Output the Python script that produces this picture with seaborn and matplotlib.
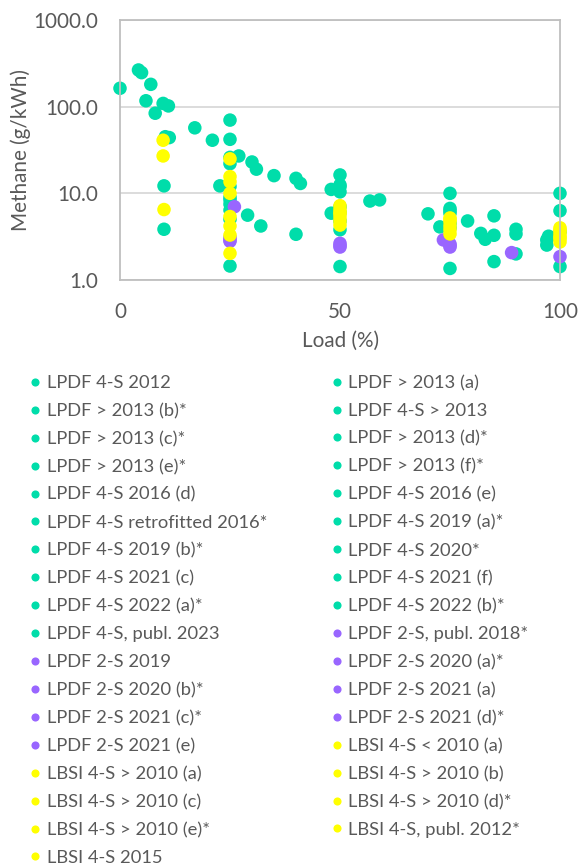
import pandas as pd
import seaborn as sns
import matplotlib.pyplot as plt
from matplotlib.ticker import FixedLocator, NullLocator

# Series names, in legend reading order (row by row, two columns)
series = [
    "LPDF 4-S 2012", "LPDF > 2013 (a)", "LPDF > 2013 (b)*", "LPDF 4-S > 2013",
    "LPDF > 2013 (c)*", "LPDF > 2013 (d)*", "LPDF > 2013 (e)*", "LPDF > 2013 (f)*",
    "LPDF 4-S 2016 (d)", "LPDF 4-S 2016 (e)", "LPDF 4-S retrofitted 2016*", "LPDF 4-S 2019 (a)*",
    "LPDF 4-S 2019 (b)*", "LPDF 4-S 2020*", "LPDF 4-S 2021 (c)", "LPDF 4-S 2021 (f)",
    "LPDF 4-S 2022 (a)*", "LPDF 4-S 2022 (b)*", "LPDF 4-S, publ. 2023", "LPDF 2-S, publ. 2018*",
    "LPDF 2-S 2019", "LPDF 2-S 2020 (a)*", "LPDF 2-S 2020 (b)*", "LPDF 2-S 2021 (a)",
    "LPDF 2-S 2021 (c)*", "LPDF 2-S 2021 (d)*", "LPDF 2-S 2021 (e)", "LBSI 4-S < 2010 (a)",
    "LBSI 4-S > 2010 (a)", "LBSI 4-S > 2010 (b)", "LBSI 4-S > 2010 (c)", "LBSI 4-S > 2010 (d)*",
    "LBSI 4-S > 2010 (e)*", "LBSI 4-S, publ. 2012*", "LBSI 4-S 2015",
]
family = ["LPDF 4-S"] * 19 + ["LPDF 2-S"] * 8 + ["LBSI 4-S"] * 8
family_colors = {"LPDF 4-S": "#00DDAA", "LPDF 2-S": "#9966FF", "LBSI 4-S": "#FFFF00"}

# engine load (%) per series
loads = [
    [25, 50, 75, 100],
    [4.2, 8, 17, 25, 31, 41, 50, 59],
    [4.9, 9.8, 21, 27, 35, 48, 56.8, 70],
    [0, 5.9, 11.2, 25, 30, 40],
    [7, 11, 25, 50, 75, 100],
    [10.3, 22.7, 48, 72.7, 97],
    [10, 29, 50, 79, 97.4],
    [25, 40, 82, 90],
    [25, 50, 75, 100],
    [32, 83, 85, 97],
    [85, 90],
    [85, 90],
    [25, 75],
    [10],
    [25, 50],
    [25, 50, 75],
    [25, 50],
    [75],
    [25, 50, 75, 100],
    [25, 50, 75, 100],
    [26],
    [25, 50, 75],
    [73.5],
    [89],
    [50],
    [75],
    [25],
    [9.8, 25, 50, 75, 100],
    [9.8, 25, 50, 75, 100],
    [10, 25, 50, 75, 100],
    [25, 50, 75, 100],
    [25, 50, 75, 100],
    [25, 75, 100],
    [25, 50, 100],
    [25, 50],
]

# methane emission (g/kWh) per series
methane = [
    [12.0, 11.9, 6.7, 6.3],
    [265, 84, 57, 26, 19, 13, 10.4, 8.4],
    [247, 109, 41, 27, 16, 11.1, 8.15, 5.8],
    [163, 117, 44, 42, 23, 14.9],
    [181, 102, 70, 16.3, 10, 10],
    [45, 12.2, 5.9, 4.1, 2.9],
    [3.85, 5.6, 3.8, 4.8, 3.2],
    [8.4, 3.37, 3.45, 3.85],
    [1.45, 1.43, 1.36, 1.43],
    [4.2, 2.95, 3.28, 2.53],
    [5.5, 3.4],
    [1.63, 2.0],
    [6.4, 5.9],
    [12.2],
    [9.0, 7.0],
    [7.5, 6.0, 4.5],
    [22, 12.5],
    [6.3],
    [5.0, 4.8, 4.0, 3.6],
    [2.9, 2.5, 2.4, 1.86],
    [7.0],
    [3.1, 2.65, 2.5],
    [2.9],
    [2.07],
    [2.4],
    [2.6],
    [2.8],
    [41, 25, 7.2, 5.2, 4.0],
    [27, 15.6, 6.0, 4.7, 3.6],
    [6.5, 13.6, 5.3, 4.2, 3.3],
    [10.0, 4.8, 3.8, 3.0],
    [5.4, 4.3, 3.4, 2.75],
    [4.2, 5.0, 3.8],
    [3.3, 5.8, 3.1],
    [2.03, 6.5],
]

rows = []
for name, xs, ys in zip(series, loads, methane):
    for x, y in zip(xs, ys):
        rows.append({"series": name, "load": x, "methane": y})
df = pd.DataFrame(rows)
palette = {name: family_colors[fam] for name, fam in zip(series, family)}

sns.set_theme(style="white")
plt.rcParams["font.family"] = ["Lato", "DejaVu Sans"]
text_color = "#595959"

fig = plt.figure(figsize=(5.79, 8.68), dpi=100)
ax = fig.add_axes([120 / 579, 1 - 280 / 868, 440 / 579, 260 / 868])

sns.scatterplot(data=df, x="load", y="methane", hue="series", hue_order=series,
                palette=palette, s=95, linewidth=0, alpha=1, ax=ax, legend="full")
ax.collections[0].set_clip_on(False)   # dots at 0 % and 100 % sit on the frame

ax.set_yscale("log")
ax.set_ylim(1, 1000)
ax.set_xlim(0, 100)
ax.yaxis.set_major_locator(FixedLocator([1, 10, 100, 1000]))
ax.yaxis.set_minor_locator(NullLocator())
ax.set_yticklabels(["1.0", "10.0", "100.0", "1000.0"])
ax.set_xticks([0, 50, 100])
ax.set_xticklabels(["0", "50", "100"])
ax.tick_params(axis="both", length=0, labelsize=14.9, labelcolor=text_color, pad=16)
ax.grid(axis="y", color="#D9D9D9", linewidth=1.3)
ax.set_axisbelow(True)
for sp in ax.spines.values():
    sp.set_color("#BFBFBF")
    sp.set_linewidth(1.3)

ax.set_xlabel("Load (%)", fontsize=14.9, color=text_color, labelpad=6)
ax.set_ylabel("Methane (g/kWh)", fontsize=14.9, color=text_color)
ax.yaxis.set_label_coords(-0.203, 0.5)

# rebuild legend: two columns, read row by row
leg = ax.get_legend()
handles = list(leg.legend_handles)
labels = [t.get_text() for t in leg.get_texts()]
leg.remove()
order = list(range(0, len(labels), 2)) + list(range(1, len(labels), 2))
fig.legend([handles[i] for i in order], [labels[i] for i in order],
           loc="upper left", bbox_to_anchor=(26 / 579, 1 - 375 / 868), ncol=2,
           frameon=False, fontsize=13.2, labelcolor=text_color, markerscale=0.6,
           handletextpad=0.15, handlelength=1.0, columnspacing=3.27, labelspacing=0.645,
           borderpad=0, borderaxespad=0)

plt.savefig("out.png", dpi=100)
plt.close()
